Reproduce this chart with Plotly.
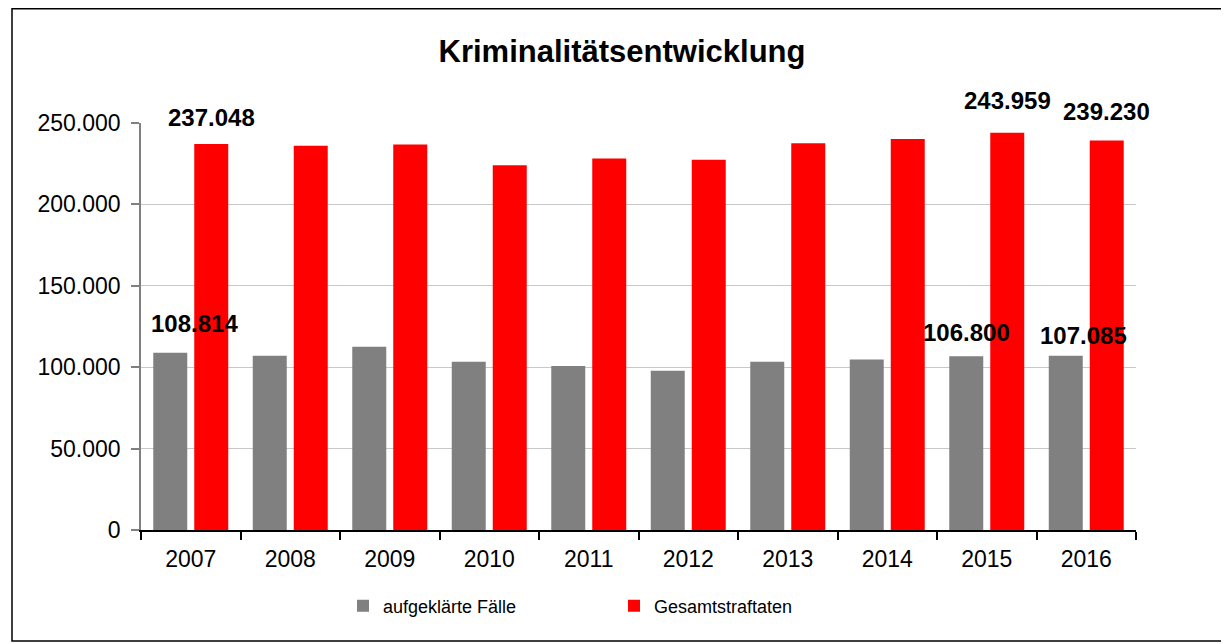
import plotly.graph_objects as go

years = ["2007", "2008", "2009", "2010", "2011", "2012", "2013", "2014", "2015", "2016"]
aufgeklaert = [108814, 107000, 112500, 103300, 100800, 97800, 103300, 104700, 106800, 107085]
gesamt = [237048, 236000, 236800, 224100, 228200, 227400, 237600, 240100, 243959, 239230]
labeled_years = ["2007", "2015", "2016"]

FONT = "Liberation Sans, Arial, sans-serif"

fig = go.Figure()
fig.add_trace(go.Bar(x=years, y=aufgeklaert, name="aufgeklärte Fälle",
                     marker=dict(color="#808080", line=dict(width=0))))
fig.add_trace(go.Bar(x=years, y=gesamt, name="Gesamtstraftaten",
                     marker=dict(color="#FF0000", line=dict(width=0))))

# data labels (positions tuned per label)
gray_shift = {"2007": (24 - 20.5, 14), "2015": (0 - 20.5, 8), "2016": (18 - 20.5, 5)}
red_shift = {"2007": (20.5, 11), "2015": (20.5, 17), "2016": (20.5, 14)}
ann = []
for yr in labeled_years:
    i = years.index(yr)
    for vals, shifts in ((aufgeklaert, gray_shift), (gesamt, red_shift)):
        v = vals[i]
        xs, ys = shifts[yr]
        ann.append(dict(x=i, y=v, xref="x", yref="y", text=f"{v:,}".replace(",", "."),
                        showarrow=False, xanchor="center", yanchor="bottom",
                        xshift=xs, yshift=ys,
                        font=dict(family=FONT, size=24, color="#000000", weight="bold")))

# page has an 8px body margin; work in screen pixels and convert
OFF = 8
W, H = 1229 - OFF, 644 - OFF
L, R, T, B = 141 - OFF, 1136 - OFF, 123 - OFF, 530 - OFF
pw, ph = R - L, B - T

def px_x(p):
    return (p - OFF - L) / pw

def px_y(p):
    return (B - (p - OFF)) / ph

fig.update_layout(
    width=W, height=H,
    margin=dict(l=L, r=W - R, t=T, b=H - B, pad=0, autoexpand=False),
    paper_bgcolor="white", plot_bgcolor="white",
    separators=",.",
    barmode="group", bargap=0.176, bargroupgap=0.171,
    font=dict(family=FONT, color="#000000"),
    title=dict(text="<b>Kriminalitätsentwicklung</b>", x=(622 - OFF) / W, xref="container",
               xanchor="center", y=1 - (51 - OFF) / H, yref="container", yanchor="middle",
               font=dict(family=FONT, size=31, color="#000000")),
    legend=dict(orientation="h", x=px_x(343), xanchor="left", y=px_y(606), yanchor="middle",
                font=dict(family=FONT, size=18, color="#000000"),
                entrywidth=226, itemclick=False, bgcolor="rgba(0,0,0,0)"),
    annotations=ann,
    shapes=[dict(type="rect", xref="paper", yref="paper",
                 x0=px_x(12), x1=px_x(1225), y0=px_y(641), y1=px_y(OFF + 0.8),
                 line=dict(color="#000000", width=1.5), fillcolor="rgba(0,0,0,0)", layer="below")],
)

fig.update_xaxes(type="category", range=[-0.5, 9.5], autorange=False, automargin=False,
                 showline=True, linecolor="#000000", linewidth=1.5,
                 ticks="outside", tickson="boundaries", ticklen=8, tickcolor="#000000", tickwidth=1.5,
                 tickfont=dict(family=FONT, size=23, color="#000000"), ticklabelstandoff=8,
                 tickangle=0, showgrid=False, zeroline=False)
fig.update_yaxes(range=[0, 250000], autorange=False, automargin=False,
                 tickvals=[0, 50000, 100000, 150000, 200000, 250000],
                 tickformat=",.0f", showline=True, linecolor="#808080", linewidth=1.5,
                 ticks="outside", ticklen=8, tickcolor="#808080", tickwidth=1.5,
                 tickfont=dict(family=FONT, size=23, color="#000000"), ticklabelstandoff=6,
                 showgrid=True, gridcolor="#C8C8C8", gridwidth=1, zeroline=False)

fig.write_html("out.html")
